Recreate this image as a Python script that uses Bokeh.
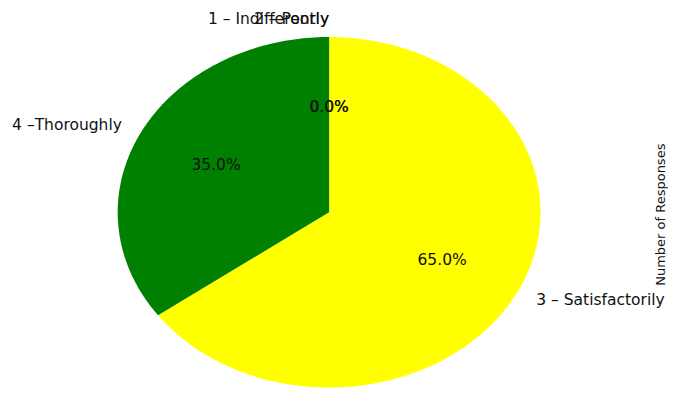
import numpy as np
from bokeh.plotting import figure
from bokeh.models import Range1d, ColumnDataSource
from bokeh.embed import file_html
from bokeh.resources import INLINE
from bokeh.core.properties import value

# ---- data ----
categories = ["1 – Indifferently", "2 – Poorly", "3 – Satisfactorily", "4 –Thoroughly"]
responses = [0, 0, 13, 7]
colors = ["#ff0000", "#ffa500", "#ffff00", "#008000"]
axis_label = "Number of Responses"

# ---- pie geometry (matplotlib-like: startangle=90, clockwise) ----
vals = np.array(responses, dtype=float)
fracs = vals / vals.sum()
start = np.pi / 2
xs, ys = [], []
lab_x, lab_y, lab_align = [], [], []
pct_x, pct_y, pct_text = [], [], []
theta = start
for f in fracs:
    t0, t1 = theta, theta - 2 * np.pi * f
    n = max(2, int(abs(t1 - t0) / (2 * np.pi) * 360) + 2)
    arc = np.linspace(t0, t1, n)
    xs.append([0.0] + list(np.cos(arc)))
    ys.append([0.0] + list(np.sin(arc)))
    tm = (t0 + t1) / 2
    lx, ly = 1.1 * np.cos(tm), 1.1 * np.sin(tm)
    lab_x.append(lx)
    lab_y.append(ly)
    lab_align.append("left" if lx > 1e-9 else "right")
    pct_x.append(0.6 * np.cos(tm))
    pct_y.append(0.6 * np.sin(tm))
    pct_text.append(f"{f * 100:.1f}%")
    theta = t1

p = figure(width=668, height=388, output_backend="svg", toolbar_location=None,
           x_range=Range1d(-1.5544, 1.6055), y_range=Range1d(-1.0051, 1.2082),
           min_border=0)
p.axis.visible = False
p.grid.visible = False
p.outline_line_color = None
p.background_fill_color = "white"
p.border_fill_color = "white"

p.patches(xs=xs, ys=ys, fill_color=colors, line_color=None)

lab_src = ColumnDataSource(dict(x=lab_x, y=lab_y, text=categories, align=lab_align))
p.text(x="x", y="y", text="text", text_align="align", source=lab_src,
       text_baseline="middle", text_font=value("DejaVu Sans"),
       text_font_size="15.5px", text_color="#111111")

pct_src = ColumnDataSource(dict(x=pct_x, y=pct_y, text=pct_text))
p.text(x="x", y="y", text="text", source=pct_src, text_align="center",
       text_baseline="middle", text_font=value("DejaVu Sans"),
       text_font_size="15.5px", text_color="#111111")

p.text(x=[1.5677], y=[-0.0137], text=[axis_label], angle=np.pi / 2,
       text_align="center", text_baseline="middle",
       text_font=value("DejaVu Sans"), text_font_size="13px", text_color="#111111")

open("out.html", "w").write(file_html(p, INLINE))
